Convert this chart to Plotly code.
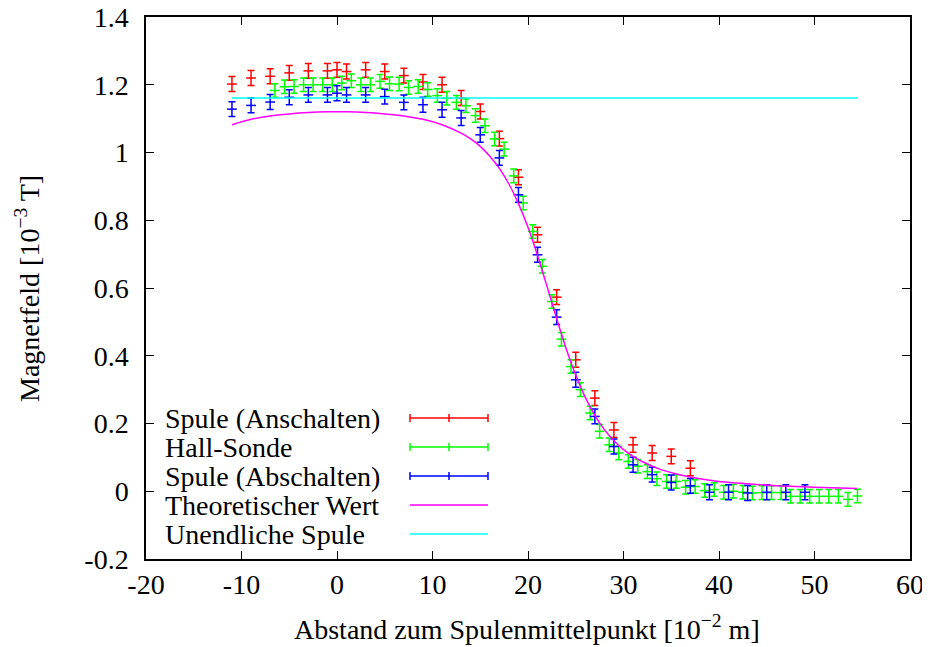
import plotly.graph_objects as go

# ---------------- data ----------------
red_x = [-11, -9, -7, -5, -3, -1, 0, 1, 3, 5, 7, 9, 11, 13, 15, 17, 19, 21, 23, 25,
         27, 29, 31, 33, 35, 37]
red_y = [1.202, 1.220, 1.225, 1.235, 1.241, 1.241, 1.244, 1.239, 1.244, 1.239, 1.227,
         1.208, 1.200, 1.161, 1.121, 1.041, 0.927, 0.757, 0.573, 0.388, 0.275, 0.181,
         0.137, 0.113, 0.103, 0.068]

green_x = [-6.5, -5.5, -4.5, -3.5, -2.5, -1.5, -0.5, 0.5, 1.5, 2.5, 3.5, 4.5, 5.5, 6.5,
           7.5, 8.5, 9.5, 10.5, 11.5, 12.5, 13.5, 14.5, 15.5, 16.5, 17.5, 18.5, 19.5,
           20.5, 21.5, 22.5, 23.5, 24.5, 25.5, 26.5, 27.5, 28.5, 29.5, 30.5, 31.5, 32.5,
           33.5, 34.5, 35.5, 36.5, 37.5, 38.5, 39.5, 40.5, 41.5, 42.5, 43.5, 44.5, 45.5,
           46.5, 47.5, 48.5, 49.5, 50.5, 51.5, 52.5, 53.5, 54.5]
green_y = [1.183, 1.194, 1.195, 1.200, 1.200, 1.200, 1.200, 1.205, 1.212, 1.200, 1.200,
           1.210, 1.203, 1.202, 1.192, 1.195, 1.186, 1.168, 1.160, 1.148, 1.138, 1.109,
           1.079, 1.040, 1.010, 0.931, 0.851, 0.767, 0.664, 0.560, 0.449, 0.368, 0.300,
           0.231, 0.177, 0.137, 0.113, 0.088, 0.074, 0.058, 0.037, 0.029, 0.029, 0.012,
           0.014, 0.002, 0.005, -0.003, 0.000, -0.003, -0.005, -0.004, -0.004, -0.004,
           -0.015, -0.015, -0.015, -0.015, -0.015, -0.015, -0.024, -0.014]

blue_x = [-11, -9, -7, -5, -3, -1, 0, 1, 3, 5, 7, 9, 11, 13, 15, 17, 19, 21, 23, 25,
          27, 29, 31, 33, 35, 37, 39, 41, 43, 45, 47, 49]
blue_y = [1.128, 1.139, 1.149, 1.163, 1.170, 1.170, 1.175, 1.170, 1.170, 1.165, 1.148,
          1.141, 1.126, 1.102, 1.052, 0.984, 0.875, 0.698, 0.514, 0.329, 0.221, 0.132,
          0.078, 0.049, 0.026, 0.016, -0.003, -0.003, -0.005, -0.003, -0.003, -0.003]

theo_x = [-11, -9, -7, -5, -3, -1, 0, 1, 3, 5, 7, 9, 11, 13, 14, 15, 16, 17, 18, 19,
          20, 21, 22, 23, 24, 25, 26, 27, 28, 29, 30, 31, 32, 34, 36, 38, 40, 43, 46,
          50, 54.5]
theo_y = [1.082, 1.098, 1.108, 1.114, 1.118, 1.120, 1.120, 1.120, 1.118, 1.114, 1.108,
          1.098, 1.082, 1.057, 1.040, 1.018, 0.989, 0.953, 0.907, 0.849, 0.779, 0.696,
          0.604, 0.510, 0.421, 0.343, 0.277, 0.224, 0.182, 0.149, 0.123, 0.103, 0.087,
          0.063, 0.048, 0.037, 0.029, 0.022, 0.016, 0.012, 0.008]

inf_x = [-11, 54.5]
inf_y = [1.161, 1.161]

red_err = 0.022
green_err = 0.020
blue_err = 0.022

names = ["Spule (Anschalten)", "Hall-Sonde", "Spule (Abschalten)",
         "Theoretischer Wert", "Unendliche Spule"]

x_ticks = [-20, -10, 0, 10, 20, 30, 40, 50, 60]
x_ticktext = ["-20", "-10", "0", "10", "20", "30", "40", "50", "60"]
y_ticks = [-0.2, 0, 0.2, 0.4, 0.6, 0.8, 1.0, 1.2, 1.4]
y_ticktext = ["-0.2", "0", "0.2", "0.4", "0.6", "0.8", "1", "1.2", "1.4"]

# ---------------- styling ----------------
RED, GREEN, BLUE, MAG, CYAN = "#ff0000", "#00ff00", "#0000ff", "#ff00ff", "#00ffff"
FONT = "Liberation Serif"
FS = 28

W, H = 930, 647
OFF = 8  # page body margin of the browser
# desired on-screen plot box: x 146..910, y 17..559
ML, MT = 146 - OFF, 17 - OFF
PW, PH = 764, 542
MR, MB = W - ML - PW, H - MT - PH


def px(xs):
    """on-screen x pixel -> paper fraction"""
    return (xs - OFF - ML) / PW


def py(ys):
    """on-screen y pixel -> paper fraction"""
    return (MT + PH - (ys - OFF)) / PH


fig = go.Figure()


def err_trace(x, y, err, color, name):
    return go.Scatter(
        x=x, y=y, mode="markers", name=name, showlegend=False,
        marker=dict(symbol="line-ew", size=7, color=color,
                    line=dict(width=1.5, color=color)),
        error_y=dict(type="constant", value=err, color=color,
                     thickness=1.5, width=3.5),
    )


fig.add_trace(err_trace(red_x, red_y, red_err, RED, names[0]))
fig.add_trace(err_trace(green_x, green_y, green_err, GREEN, names[1]))
fig.add_trace(err_trace(blue_x, blue_y, blue_err, BLUE, names[2]))
fig.add_trace(go.Scatter(x=theo_x, y=theo_y, mode="lines", name=names[3],
                         showlegend=False, line=dict(color=MAG, width=1.5,
                                                     shape="spline", smoothing=0.6)))
fig.add_trace(go.Scatter(x=inf_x, y=inf_y, mode="lines", name=names[4],
                         showlegend=False, line=dict(color=CYAN, width=1.5)))

# ---------------- custom legend (text left, sample right) ----------------
rows_y = [418, 447, 476, 505, 534]
colors = [RED, GREEN, BLUE, MAG, CYAN]
shapes = []
annotations = []
for i, (nm, c, yy) in enumerate(zip(names, colors, rows_y)):
    annotations.append(dict(text=nm, xref="paper", yref="paper", x=px(163), y=py(yy),
                            xanchor="left", yanchor="middle", showarrow=False,
                            font=dict(family=FONT, size=FS, color="black")))
    shapes.append(dict(type="line", xref="paper", yref="paper", x0=px(410), x1=px(488),
                       y0=py(yy), y1=py(yy), line=dict(color=c, width=1.5)))
    if i < 3:
        for xx in (410, 449, 488):
            shapes.append(dict(type="line", xref="paper", yref="paper", x0=px(xx),
                               x1=px(xx), y0=py(yy - 4), y1=py(yy + 4),
                               line=dict(color=c, width=1.5)))

# axis titles
annotations.append(dict(text="Abstand zum Spulenmittelpunkt [10<sup>−2</sup> m]",
                        xref="paper", yref="paper", x=px(527), y=py(627),
                        xanchor="center", yanchor="middle", showarrow=False,
                        font=dict(family=FONT, size=FS, color="black")))
annotations.append(dict(text="Magnetfeld [10<sup>−3</sup> T]",
                        xref="paper", yref="paper", x=px(27), y=py(288),
                        xanchor="center", yanchor="middle", showarrow=False,
                        textangle=-90,
                        font=dict(family=FONT, size=FS, color="black")))

axis_common = dict(showgrid=False, zeroline=False, showline=True, linecolor="black",
                   linewidth=1.5, mirror="allticks", ticks="inside", ticklen=8,
                   tickwidth=1.2, tickcolor="black", ticklabeloverflow="allow",
                   tickfont=dict(family=FONT, size=FS, color="black"))

fig.update_layout(
    width=W, height=H,
    margin=dict(l=ML, r=MR, t=MT, b=MB, autoexpand=False),
    paper_bgcolor="white", plot_bgcolor="white",
    showlegend=False,
    font=dict(family=FONT, size=FS, color="black"),
    xaxis=dict(range=[-20, 60], tickvals=x_ticks, ticktext=x_ticktext,
               ticklabelstandoff=0, **axis_common),
    yaxis=dict(range=[-0.2, 1.4], tickvals=y_ticks, ticktext=y_ticktext,
               ticklabelstandoff=10, **axis_common),
    shapes=shapes,
    annotations=annotations,
)

fig.write_html("out.html")
